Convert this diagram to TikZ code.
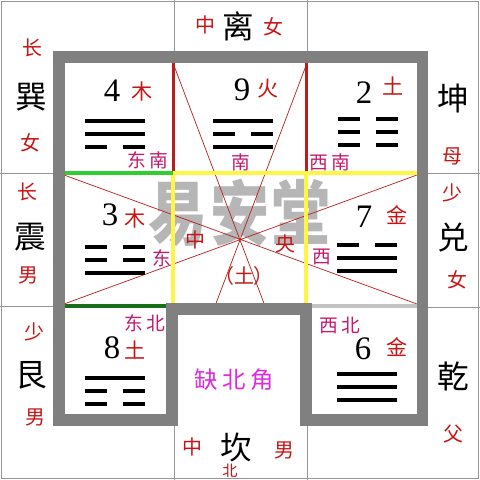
\documentclass[tikz,border=0pt]{standalone}
\usepackage{fontspec}
\usepackage{tikz}
\usepackage{xcolor}
\setmainfont{Liberation Serif}
\newfontfamily\cjk{Noto Sans CJK SC}
\definecolor{wallgray}{RGB}{128,128,128}
\definecolor{gridgray}{RGB}{150,150,150}
\definecolor{zhured}{RGB}{200,20,20}
\definecolor{linered}{RGB}{185,30,30}
\definecolor{fangpink}{RGB}{195,25,110}
\definecolor{quepink}{RGB}{225,40,225}
\definecolor{lightgreen}{RGB}{50,205,50}
\definecolor{darkgreen}{RGB}{25,110,25}
\definecolor{palegray}{RGB}{195,195,195}
\definecolor{yellowline}{RGB}{255,245,70}
\definecolor{markgray}{RGB}{182,182,182}

\tikzset{
	gua/.style={font=\cjk\fontsize{27}{27}\selectfont, inner sep=0pt},
	rel/.style={font=\cjk\fontsize{17}{17}\selectfont, text=zhured, inner sep=0pt},
	elem/.style={font=\cjk\fontsize{18}{18}\selectfont, text=zhured, inner sep=0pt},
	num/.style={font=\fontsize{28}{28}\selectfont, inner sep=0pt},
	fang/.style={font=\cjk\fontsize{16}{16}\selectfont, text=fangpink, inner sep=0pt},
	yao/.style={line width=2.8pt},
	wall/.style={draw=wallgray, line width=9.4pt},
	gridline/.style={draw=gridgray, line width=0.7pt},
	colline/.style={line width=2.6pt},
}

% x, y of the top line, pattern (1 = whole, 0 = broken)
\newcommand{\trigram}[3]{%
	\foreach \s [count=\k from 0] in {#3} {
		\ifnum\s=1
			\draw[yao] ({#1-30},{#2+13*\k}) -- ({#1+30},{#2+13*\k});
		\else
			\draw[yao] ({#1-30},{#2+13*\k}) -- ({#1-8},{#2+13*\k});
			\draw[yao] ({#1+8},{#2+13*\k}) -- ({#1+30},{#2+13*\k});
		\fi
	}
}

\begin{document}
\begin{tikzpicture}[x=0.03cm,y=-0.03cm]
	\useasboundingbox[fill=white] (0,0) rectangle (480,480);

	% outer grid
	\draw[gridline] (1.5,1.5) rectangle (478.5,478.5);
	\draw[gridline] (174,0) -- (174,57) (307,0) -- (307,57);
	\draw[gridline] (174,420) -- (174,480) (307,420) -- (307,480);
	\draw[gridline] (0,173) -- (59,173) (0,306) -- (59,306);
	\draw[gridline] (422,173) -- (480,173) (422,307) -- (480,307);

	% watermark
	\node[font=\cjk\bfseries\fontsize{48}{48}\selectfont, text=markgray, inner sep=0pt] (mark) at (240,213)
		{\scalebox{1.05}[1.25]{易\hspace{2pt}安\hspace{2pt}堂}};

	% diagonals through the centre
	\coordinate (c) at (240,240);
	\coordinate (ea) at (64,175);
	\coordinate (eb) at (64,304);
	\coordinate (wa) at (417,175);
	\coordinate (wb) at (417,304);
	\coordinate (sa) at (173,63);
	\coordinate (sb) at (307,63);
	\coordinate (na) at (265,306);
	\coordinate (nb) at (215,306);
	\draw[linered, line width=0.6pt] (ea) -- (wb) (eb) -- (wa) (sa) -- (na) (sb) -- (nb);

	% coloured division lines
	\draw[linered, line width=3.4pt] (173.5,63) -- (173.5,173) (306.5,63) -- (306.5,173);
	\draw[colline, yellowline] (173,173) -- (417,173);
	\draw[colline, yellowline] (173,173) -- (173,304) (306,173) -- (306,304);
	\draw[colline, lightgreen] (64,173) -- (173,173);
	\draw[colline, darkgreen] (64,306) -- (167,306);
	\draw[colline, palegray] (312,306) -- (417,306);

	% the wall with the missing north corner
	\draw[wall] (59,57) -- (422,57) -- (422,420) -- (306,420) -- (306,309)
		-- (172,309) -- (172,420) -- (59,420) -- cycle;

	% trigrams
	\trigram{115}{121}{1,1,0}
	\trigram{243}{121}{1,0,1}
	\trigram{368}{119}{0,0,0}
	\trigram{115}{247}{0,0,1}
	\trigram{367}{245}{0,1,1}
	\trigram{115}{378}{1,0,0}
	\trigram{367}{374}{1,1,1}

	% numbers and elements
	\node[num] (n4) at (112,91) {4};
	\node[elem] (e4) at (142,91) {木};
	\node[num] (n9) at (242,90) {9};
	\node[elem] (e9) at (268,89) {火};
	\node[num] (n2) at (364,93) {2};
	\node[elem] (e2) at (393,86) {土};
	\node[num] (n3) at (110,215) {3};
	\node[elem] (e3) at (135,218) {木};
	\node[num] (n7) at (364,217) {7};
	\node[elem] (e7) at (397,215) {金};
	\node[num] (n8) at (112,348) {8};
	\node[elem] (e8) at (135,350) {土};
	\node[num] (n6) at (363,349) {6};
	\node[elem] (e6) at (397,347) {金};

	% directions
	\node[fang] (dnan) at (148,160) {东\hspace{3pt}南};
	\node[fang] (nan) at (241,162) {南};
	\node[fang] (xnan) at (330,162) {西\hspace{3pt}南};
	\node[fang] (dong) at (162,258) {东};
	\node[fang] (xi) at (322,257) {西};
	\node[fang] (dbei) at (145,323) {东\hspace{3pt}北};
	\node[fang] (xbei) at (340,326) {西\hspace{3pt}北};
	\node[rel] (zhong) at (195,240) {中};
	\node[rel] (yang) at (285,244) {央};
	\node[rel] (tu) at (244,276) {（土）};
	\node[font=\cjk\fontsize{20}{20}\selectfont, text=quepink, inner sep=0pt] (que) at (234,380) {缺\hspace{4pt}北\hspace{4pt}角};

	% outer ring
	\node[rel] (topzhong) at (205,25) {中};
	\node[gua] (li) at (238,26) {离};
	\node[rel] (topnv) at (273,27) {女};
	\node[rel] (xunzhang) at (32,48) {长};
	\node[gua] (xun) at (31,97) {巽};
	\node[rel] (xunnv) at (30,143) {女};
	\node[rel] (zhenzhang) at (27,192) {长};
	\node[gua] (zhen) at (30,237) {震};
	\node[rel] (zhennan) at (28,275) {男};
	\node[rel] (genshao) at (34,332) {少};
	\node[gua] (gen) at (31,375) {艮};
	\node[rel] (gennan) at (35,417) {男};
	\node[rel] (botzhong) at (192,447) {中};
	\node[gua] (kan) at (236,447) {坎};
	\node[rel] (kannan) at (284,450) {男};
	\node[rel, font=\cjk\fontsize{13}{13}\selectfont] (bei) at (230,471) {北};
	\node[gua] (kun) at (453,98) {坤};
	\node[rel] (kunmu) at (452,156) {母};
	\node[rel] (duishao) at (452,193) {少};
	\node[gua] (dui) at (453,238) {兑};
	\node[rel] (duinv) at (457,280) {女};
	\node[gua] (qian) at (453,376) {乾};
	\node[rel] (qianfu) at (453,434) {父};
\end{tikzpicture}
\end{document}
